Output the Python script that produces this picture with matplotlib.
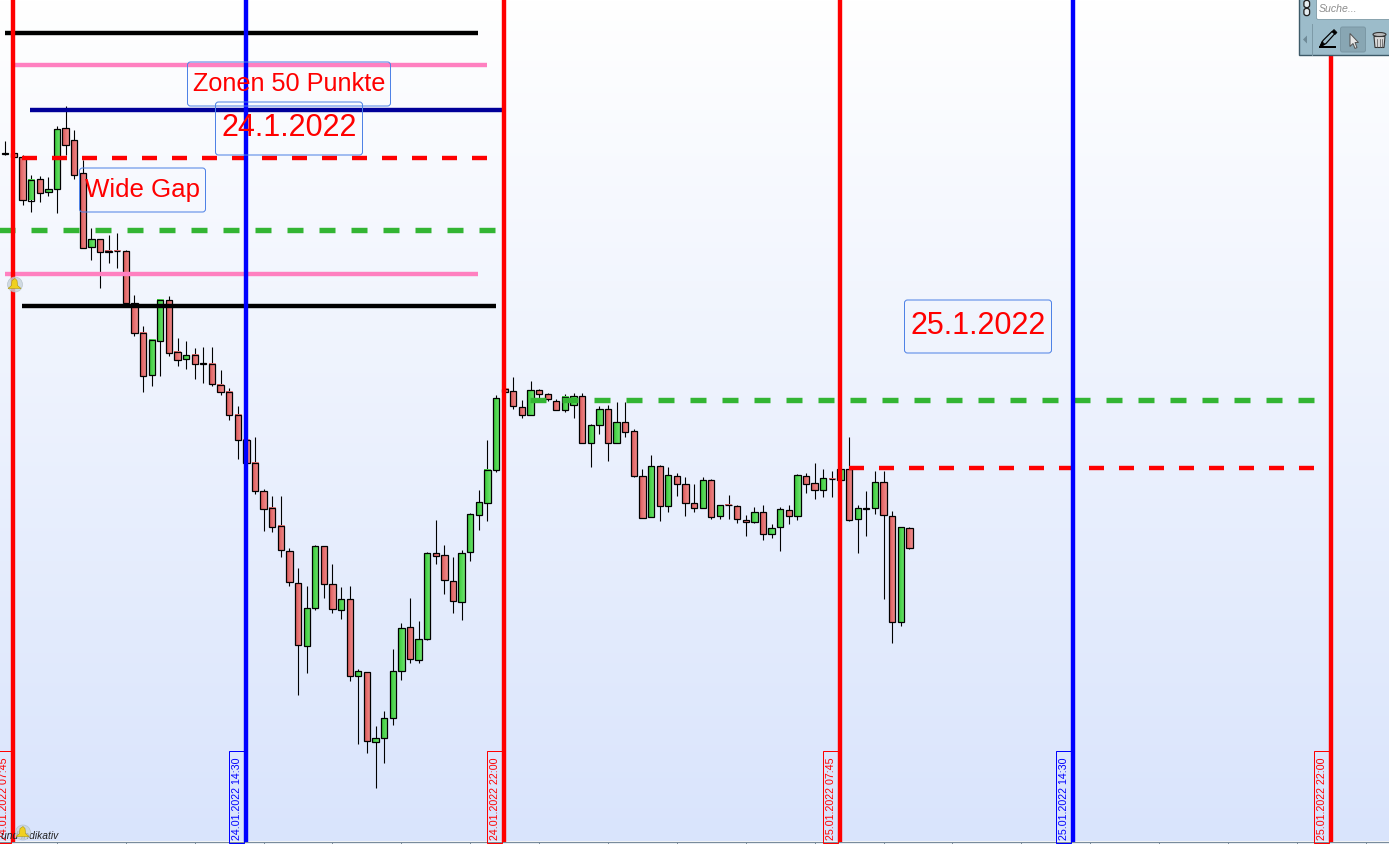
# Candlestick chart with drawn zones, session lines and labels

import numpy as np
import matplotlib
matplotlib.use('Agg')
import matplotlib.pyplot as plt
from matplotlib.colors import LinearSegmentedColormap
from matplotlib.patches import Rectangle, FancyBboxPatch, Polygon, Circle, Ellipse

plt.rcParams['font.family'] = ['Liberation Sans', 'DejaVu Sans']
plt.rcParams['lines.scale_dashes'] = False

W = 1389
H = 845
PX = 0.72   # one pixel in points at dpi 100

# candles, price scale read as screen rows from the top of the chart
body_top = [153.5, 153.5, 157.7, 180, 179.3, 189.3, 129.3, 128.3, 140.3, 173.3, 239.3, 239.3, 251.5, 251.3, 251.3,
            303.7, 333.3, 340.3, 300.3, 300.3, 352.3, 355.3, 355.3, 363.6, 364.3, 385.3, 392.3, 415.3, 440.3, 463.3,
            491.3, 508.3, 526.3, 551.3, 583.3, 608.3, 546.3, 546.3, 584.3, 599.3, 599.3, 671.3, 672.3, 738.3, 718.3,
            671.3, 628.3, 627.3, 639.3, 553.3, 553.3, 555.3, 581.3, 553.3, 514.3, 502.3, 470.3, 398.3, 389.3, 391.3,
            407.3, 390.3, 390.3, 394.3, 401.3, 397, 396.3, 396.3, 425.3, 409.3, 409.3, 422.3, 422.3, 431.3, 476.3,
            466.3, 466.3, 475.3, 476.3, 484.3, 503.3, 480.3, 480.3, 505.3, 505, 506.3, 520.3, 512.3, 512.3, 528.3,
            509.3, 510.3, 475.3, 476.3, 483.3, 478.3, 479.4, 469.3, 469.3, 508.3, 508.7, 482.3, 482.3, 516.3, 527.3,
            528.3]
body_bot = [154, 157.5, 200.3, 201, 193.3, 192.3, 189.3, 145.3, 175.3, 248.3, 247.3, 252.3, 252, 251.6, 303.3,
            333.3, 376.7, 375.7, 341.7, 353.3, 360.7, 359.3, 364.7, 364.4, 384.7, 392.7, 415.7, 440.7, 463.7, 491.7,
            509.3, 527.7, 550.7, 582.3, 645.3, 646.3, 608.3, 584.3, 609.3, 610.3, 676.3, 676.3, 741.3, 742.3, 738.3,
            718.3, 671.3, 659.3, 660.3, 639.3, 556.3, 580.3, 601.3, 602.3, 552.3, 515.3, 503.7, 470.3, 392.7, 406.3,
            415.3, 415.3, 394.3, 399.3, 410.3, 410.3, 405.3, 443.3, 443.3, 425.3, 443.3, 443.3, 432.3, 476.3, 518.3,
            517.3, 506.3, 506.3, 484.3, 503.3, 508.3, 508.3, 517.3, 516.3, 505.5, 519.3, 522.3, 522.3, 534.3, 534.3,
            527.3, 516.3, 516.3, 484.3, 490.3, 490.3, 479.8, 480.3, 520.3, 519.3, 509.2, 508.3, 515.3, 622.3, 622.3,
            548.3]
wick_top = [141, 153.5, 155, 175, 176, 177.3, 126, 106, 130, 160, 228.3, 239.3, 235, 233.3, 250.3,
            295, 326, 340.3, 300, 296, 338, 341, 348, 347, 347, 370, 388, 406, 440.3, 437,
            489, 496, 496, 548.3, 568, 586, 545, 546.3, 564, 587, 586, 669.3, 672.3, 726.3, 711.3,
            649.3, 623.3, 598, 621.3, 552, 520.3, 545.3, 557.3, 550.3, 513.3, 490, 440, 395.3, 389.3, 377.3,
            400.3, 381, 389, 393, 399, 394, 393.3, 393, 424, 406.3, 405.3, 402.3, 402.3, 429.3, 469,
            455, 465, 467.3, 473, 477.3, 484.3, 477.3, 479.3, 505, 495.3, 505.3, 515.3, 507.3, 505.3, 524,
            507.3, 505.3, 474.3, 473.3, 463, 469.3, 471.3, 469.3, 437, 505.3, 491.3, 471.3, 471.3, 511.3, 527,
            527.3]
wick_bot = [155, 157.5, 205.7, 212.7, 202.7, 196.7, 213.7, 155.7, 179.7, 248.3, 260.7, 288.7, 263.7, 268.7, 303.3,
            336.7, 392.7, 386, 376.7, 356.7, 366, 369, 379, 383, 386, 395, 420, 459, 463.7, 494.7,
            531.7, 532.7, 557.7, 586.7, 695.7, 673.7, 610.7, 598.7, 613.7, 619.7, 681.7, 744.7, 753.7, 788.7, 763.7,
            725.7, 680.7, 663.7, 663.7, 640.7, 564.7, 594.7, 613.7, 620.7, 561.7, 530.7, 521.7, 472.7, 392.7, 409,
            418.7, 415.3, 398, 401.3, 410.3, 412.7, 418.7, 443.3, 467.7, 434.7, 461.7, 443.3, 437.7, 477.3, 518.3,
            517.3, 521.7, 512.7, 496.7, 516.7, 512.7, 508.3, 519.7, 519.7, 519.7, 523.7, 536.7, 523.7, 540.7, 538.7,
            551.7, 524.7, 520.7, 493.7, 499.7, 497.7, 497.7, 480.3, 521.3, 553.7, 536.7, 514.7, 599.7, 643.7, 626.7,
            549.3]
is_up = [0, 0, 0, 1, 0, 1, 1, 0, 0, 0, 1, 0, 0, 0, 0,
         0, 0, 1, 1, 0, 0, 1, 0, 0, 0, 0, 0, 0, 0, 0,
         0, 0, 0, 0, 0, 1, 1, 0, 0, 1, 0, 1, 0, 1, 1,
         1, 1, 0, 1, 1, 0, 0, 0, 1, 1, 1, 1, 1, 0, 0,
         0, 1, 0, 0, 0, 1, 1, 0, 1, 1, 0, 1, 0, 0, 0,
         1, 0, 1, 0, 0, 0, 1, 0, 1, 0, 0, 0, 1, 0, 1,
         1, 0, 1, 0, 0, 1, 0, 1, 0, 1, 0, 1, 0, 0, 1,
         0]
tick_bars = list(range(6, 160, 8))

# drawn zones: start, end, level
solid_names = ['black1', 'pink1', 'blue', 'pink2', 'black2']
solid_starts = [5, 14, 30, 5, 22]
solid_ends = [478, 487, 502, 478, 496]
solid_levels = [33, 65, 110, 274, 306]
solid_colors = ['#000000', '#ff80c0', '#000099', '#ff80c0', '#000000']

red_dash_starts = [22, 849]
red_dash_ends = [487, 1315]
red_dash_levels = [158, 468]
green_dash_starts = [-2, 530]
green_dash_ends = [495, 1315]
green_dash_levels = [230.5, 400.5]

# session lines
session_x = [13, 246, 504, 840, 1073, 1331]
session_labels = ['24.01.2022 07:45', '24.01.2022 14:30', '24.01.2022 22:00',
                  '25.01.2022 07:45', '25.01.2022 14:30', '25.01.2022 22:00']
session_colors = ['#ff0000', '#0000ff', '#ff0000', '#ff0000', '#0000ff', '#ff0000']

# text boxes: text, left, right, top, bottom, font size
box_texts = ['Zonen 50 Punkte', '24.1.2022', 'Wide Gap', '25.1.2022']
box_left = [187.5, 215.5, 79.5, 904.5]
box_right = [390.5, 362.5, 205.5, 1051.5]
box_top = [62.5, 102.5, 168.5, 300.5]
box_bot = [106.5, 155.5, 212.5, 353.5]
box_size = [18.2, 22, 18.6, 22]


def draw_candles(ax):
    up_cmap = LinearSegmentedColormap.from_list('up', ['#38c838', '#6ce46c'])
    dn_cmap = LinearSegmentedColormap.from_list('dn', ['#dc5a5a', '#f08c8c'])
    ramp = np.linspace(0, 1, 8).reshape(1, -1)
    half = 3.15 / 8.61
    idx = np.arange(len(body_top))
    ax.vlines(idx, wick_top, wick_bot, colors='k', lw=1.1 * PX, zorder=2)
    for i in idx:
        top, bot = body_top[i], body_bot[i]
        cmap = up_cmap if is_up[i] else dn_cmap
        ax.imshow(ramp, cmap=cmap, aspect='auto', zorder=3,
                  extent=[i - half, i + half, bot, top])
        ax.add_patch(Rectangle((i - half, top), 2 * half, bot - top, fc='none',
                               ec='k', lw=1.25 * PX, zorder=4))


def draw_toolbar(ov):
    ov.add_patch(Rectangle((1298.5, -3), 95, 58.5, fc='#9cbcca', ec='#3d5a68', lw=1.4 * PX, zorder=10))
    ov.add_patch(FancyBboxPatch((1316.5, -6), 80, 26, boxstyle='round,pad=0,rounding_size=2',
                                fc='white', ec='#6f8d9a', lw=0.7 * PX, zorder=11))
    ov.text(1319, 8, 'Suche...', fontsize=7.6, style='italic', color='#8c8c8c', va='center', zorder=12)
    for yy in [1.5, 9.5]:
        ov.add_patch(FancyBboxPatch((1304.5, yy), 4.5, 6, boxstyle='round,pad=0.6,rounding_size=2.5',
                                    fc='#e6eef2', ec='#222222', lw=1.3 * PX, zorder=12))
    ov.plot([1312, 1312], [24, 55], color='#7d9aa7', lw=PX, zorder=11)
    ov.add_patch(Polygon([[1303, 40], [1307, 36], [1307, 44]], fc='#6f8a97', ec='none', zorder=12))
    ov.add_patch(FancyBboxPatch((1340.5, 27.5), 25, 25, boxstyle='round,pad=0,rounding_size=2',
                                fc='#88a6b3', ec='#7b98a5', lw=PX, zorder=11))
    # pencil
    ov.plot([1319, 1336], [47.5, 47.5], color='k', lw=2 * PX, zorder=12, solid_capstyle='butt')
    ov.add_patch(Polygon([[1320, 47], [1323, 41], [1332, 32], [1335, 34], [1326, 44]],
                         fc='#9cbcca', ec='k', lw=1.2 * PX, zorder=12))
    ov.add_patch(Polygon([[1320, 47], [1322, 42], [1325, 45]], fc='k', ec='k', lw=0.5, zorder=12))
    ov.add_patch(Polygon([[1332, 32], [1334, 30], [1337, 33], [1335, 35]], fc='k', ec='k', lw=0.5, zorder=12))
    # cursor
    ov.add_patch(Polygon([[1350, 34], [1350, 47], [1353, 44], [1355, 49], [1357, 48], [1355, 43], [1358.5, 43]],
                         fc='#e8e8e8', ec='#555555', lw=PX, zorder=12))
    # bin
    ov.add_patch(Polygon([[1374, 37], [1385, 37], [1384, 48], [1375, 48]], fc='#d8d8d8', ec='#333333',
                         lw=1.1 * PX, zorder=12))
    ov.add_patch(Ellipse((1379.5, 35), 13, 4, fc='#bbbbbb', ec='#333333', lw=1.1 * PX, zorder=13))
    for xx in [1377, 1379.5, 1382]:
        ov.plot([xx, xx], [39, 47], color='#555555', lw=0.7 * PX, zorder=13)


def draw_bell(ov, x, y):
    ov.add_patch(Circle((x, y), 7.5, fc='#c8d4dc', ec='#b0bcc4', lw=0.7 * PX, alpha=0.8, zorder=8))
    ov.add_patch(Polygon([[x - 7, y + 4], [x - 3.5, y + 1], [x - 3, y - 4], [x, y - 6], [x + 2, y - 4],
                          [x + 2.5, y + 1], [x + 6, y + 4]], fc='#f0d020', ec='#a89000', lw=0.5 * PX, zorder=9))


fig = plt.figure(figsize=(W / 100, H / 100), dpi=100, facecolor='#f4f7fd')

# main chart, bars are spaced by index
ax = fig.add_axes([0, 2.5 / H, 1, 842.5 / H])
grad = np.linspace(0, 1, 256).reshape(-1, 1)
bg_cmap = LinearSegmentedColormap.from_list('bg', ['#ffffff', '#d9e4fc'])
x0 = -5.3 / 8.61
x1 = (W - 5.3) / 8.61
ax.imshow(grad, cmap=bg_cmap, aspect='auto', extent=[x0, x1, 842, -0.5], zorder=0)
draw_candles(ax)
ax.set_xlim(x0, x1)
ax.set_ylim(842, -0.5)
ax.set_yticks([])
ax.set_xticks(tick_bars)
ax.set_xticklabels([])
ax.tick_params(axis='x', length=3 * PX, width=PX, color='#7a8c9c', direction='out', pad=0)
for name in ['top', 'left', 'right']:
    ax.spines[name].set_visible(False)
ax.spines['bottom'].set_color('#7a8c9c')
ax.spines['bottom'].set_linewidth(1.2 * PX)

# overlay in screen units for the drawing tools
ov = fig.add_axes([0, 0, 1, 1], facecolor='none')
ov.set_xlim(0, W)
ov.set_ylim(H - 0.5, -0.5)
ov.axis('off')

for i in range(len(solid_names)):
    ov.plot([solid_starts[i], solid_ends[i]], [solid_levels[i]] * 2, color=solid_colors[i],
            lw=4.4 * PX, solid_capstyle='butt', zorder=5)
for i in range(len(red_dash_levels)):
    ov.plot([red_dash_starts[i], red_dash_ends[i]], [red_dash_levels[i]] * 2, color='#ff0000',
            lw=4.4 * PX, dash_capstyle='butt', linestyle=(0, (15 * PX, 15 * PX)), zorder=5)
for i in range(len(green_dash_levels)):
    ov.plot([green_dash_starts[i], green_dash_ends[i]], [green_dash_levels[i]] * 2, color='#33b533',
            lw=5.4 * PX, dash_capstyle='butt', linestyle=(0, (16 * PX, 16 * PX)), zorder=5)

for i in range(len(session_x)):
    xs = session_x[i]
    col = session_colors[i]
    ov.add_patch(Rectangle((xs - 17, 751), 15, 92, fc='none', ec=col, lw=PX, zorder=6))
    ov.plot([xs, xs], [0, 842], color=col, lw=4.4 * PX, solid_capstyle='butt', zorder=7)
    ov.text(xs - 9, 840, session_labels[i], rotation=90, color=col, fontsize=7.7,
            ha='center', va='bottom', zorder=7)

for i in range(len(box_texts)):
    ov.add_patch(FancyBboxPatch((box_left[i], box_top[i]), box_right[i] - box_left[i], box_bot[i] - box_top[i],
                                boxstyle='round,pad=0,rounding_size=3', fc='none', ec='#4f82e6',
                                lw=PX, zorder=8))
    ov.text((box_left[i] + box_right[i]) / 2, (box_top[i] + box_bot[i]) / 2 - 1, box_texts[i], color='#ff0000',
            fontsize=box_size[i], ha='center', va='center', zorder=9)

ov.text(58, 836, 'und indikativ', fontsize=7.4, style='italic', color='#222222', ha='right', va='center', zorder=8)
draw_bell(ov, 15, 285)
draw_bell(ov, 23, 833)
draw_toolbar(ov)

fig.savefig('out.png', dpi=100, facecolor=fig.get_facecolor())
